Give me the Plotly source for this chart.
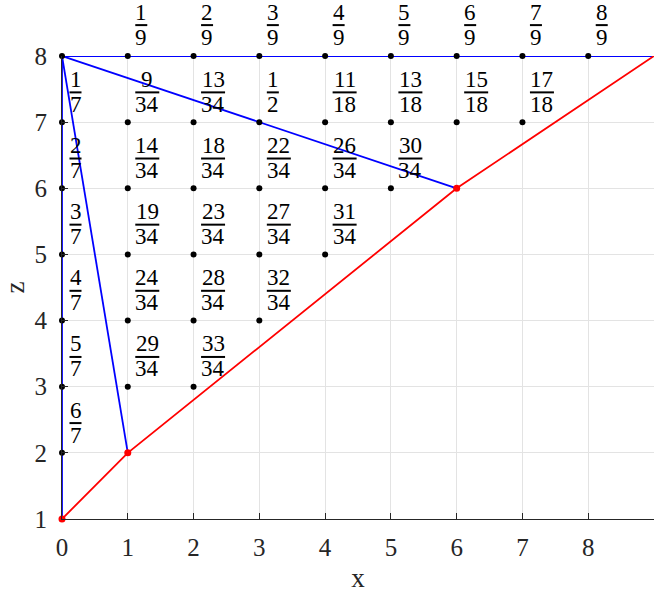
import plotly.graph_objects as go

# black lattice points
pt_x = [0]*7 + [1]*6 + [2]*6 + [3]*5 + [4]*4 + [5]*3 + [6]*2 + [7]*2 + [8]
pt_z = ([2, 3, 4, 5, 6, 7, 8] + [3, 4, 5, 6, 7, 8] + [3, 4, 5, 6, 7, 8] +
        [4, 5, 6, 7, 8] + [5, 6, 7, 8] + [6, 7, 8] + [7, 8] + [7, 8] + [8])

# red path and red points
red_x = [0, 1, 6, 9]
red_z = [1, 2, 6, 8]
red_pt_x = [0, 1, 6]
red_pt_z = [1, 2, 6]

# blue paths
blue_x = [0, 0, 9, None, 0, 1, None, 0, 6]
blue_z = [1, 8, 8, None, 8, 2, None, 8, 6]

# fraction labels
lab_x = [1, 2, 3, 4, 5, 6, 7, 8,
         0, 1, 2, 3, 4, 5, 6, 7,
         0, 1, 2, 3, 4, 5,
         0, 1, 2, 3, 4,
         0, 1, 2, 3,
         0, 1, 2,
         0]
lab_z = ([8.467]*8 + [7.45]*8 + [6.45]*6 + [5.45]*5 + [4.45]*4 + [3.45]*3 + [2.45])
lab_num = [1, 2, 3, 4, 5, 6, 7, 8,
           1, 9, 13, 1, 11, 13, 15, 17,
           2, 14, 18, 22, 26, 30,
           3, 19, 23, 27, 31,
           4, 24, 28, 32,
           5, 29, 33,
           6]
lab_den = [9, 9, 9, 9, 9, 9, 9, 9,
           7, 34, 34, 2, 18, 18, 18, 18,
           7, 34, 34, 34, 34, 34,
           7, 34, 34, 34, 34,
           7, 34, 34, 34,
           7, 34, 34,
           7]

x_range = [0, 9]
z_range = [1, 8]
x_ticks = list(range(0, 10))
z_ticks = list(range(1, 9))

FONT = "Liberation Serif"
TXT = "#262626"
FS = 23

fig = go.Figure()
fig.add_trace(go.Scatter(x=blue_x, y=blue_z, mode="lines",
                         line=dict(color="#0000ff", width=1.8),
                         hoverinfo="skip"))
fig.add_trace(go.Scatter(x=red_x, y=red_z, mode="lines",
                         line=dict(color="#ff0000", width=1.8),
                         hoverinfo="skip"))
fig.add_trace(go.Scatter(x=pt_x, y=pt_z, mode="markers",
                         marker=dict(color="black", size=6),
                         cliponaxis=False))
fig.add_trace(go.Scatter(x=red_pt_x, y=red_pt_z, mode="markers",
                         marker=dict(color="#ff0000", size=7),
                         cliponaxis=False))

annotations = []
shapes = []
for xv, zv, n, d in zip(lab_x, lab_z, lab_num, lab_den):
    nd = max(len(str(n)), len(str(d)))
    w = 12 if nd == 1 else 24
    cx = 7.5 + w / 2
    if zv > z_range[1]:
        # above the plotting area: place in paper coordinates (same linear scale)
        yref = "paper"
        yv = (zv - z_range[0]) / (z_range[1] - z_range[0])
    else:
        yref = "y"
        yv = zv
    annotations.append(dict(x=xv, y=yv, xref="x", yref=yref, text=str(n),
                            showarrow=False, xanchor="center", yanchor="middle",
                            xshift=cx, yshift=13,
                            font=dict(family=FONT, size=FS, color="black")))
    annotations.append(dict(x=xv, y=yv, xref="x", yref=yref, text=str(d),
                            showarrow=False, xanchor="center", yanchor="middle",
                            xshift=cx, yshift=-12,
                            font=dict(family=FONT, size=FS, color="black")))
    shapes.append(dict(type="line", xref="x", yref=yref,
                       xsizemode="pixel", xanchor=xv, x0=7.5, x1=7.5 + w,
                       ysizemode="pixel", yanchor=yv, y0=0, y1=0,
                       line=dict(color="black", width=2)))

fig.update_layout(
    width=654, height=595,
    margin=dict(l=62, r=0, t=56, b=76),
    paper_bgcolor="white", plot_bgcolor="white",
    showlegend=False,
    annotations=annotations, shapes=shapes,
    font=dict(family=FONT, color=TXT),
    xaxis=dict(range=x_range, tickvals=x_ticks, ticktext=[str(v) for v in x_ticks],
               automargin=False,
               showgrid=True, gridcolor="#e3e3e3", gridwidth=1,
               zeroline=False, showline=True, linecolor="#262626", linewidth=1.2,
               ticks="inside", ticklen=6, tickcolor="#262626",
               ticklabelstandoff=6,
               tickfont=dict(family=FONT, size=25, color=TXT),
               title=dict(text="x", font=dict(family=FONT, size=27, color=TXT), standoff=8)),
    yaxis=dict(range=z_range, tickvals=z_ticks, ticktext=[str(v) for v in z_ticks],
               automargin=False,
               showgrid=True, gridcolor="#e3e3e3", gridwidth=1,
               zeroline=False, showline=True, linecolor="#262626", linewidth=1.2,
               ticks="inside", ticklen=6, tickcolor="#262626",
               ticklabelstandoff=9,
               tickfont=dict(family=FONT, size=25, color=TXT),
               title=dict(text="z", font=dict(family=FONT, size=27, color=TXT), standoff=16)),
)

fig.write_html("out.html", config={"displayModeBar": False},
               post_script="document.body.style.margin='0px';")
